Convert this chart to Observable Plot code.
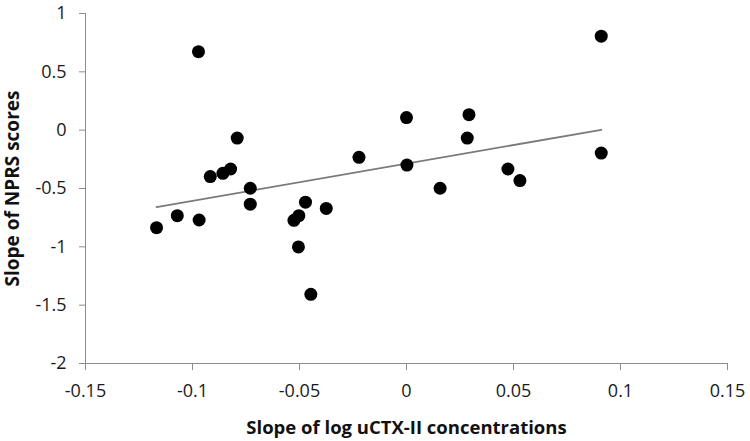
<!DOCTYPE html>
<html><head><meta charset="utf-8">
<script src="https://cdn.jsdelivr.net/npm/d3@7"></script>
<script src="https://cdn.jsdelivr.net/npm/@observablehq/plot@0.6"></script>
<style>body{margin:0;background:#fff}</style>
</head><body><div id="chart"></div>
<script>
// Slope of log uCTX-II concentrations (x) and slope of NPRS scores (y)
const ctxSlope = [-0.0972, -0.1168, -0.1071, -0.0969, -0.0917, -0.0858, -0.0822, -0.0791, -0.0730, -0.0730,
  0.0000, 0.0002, -0.0222, 0.0157, 0.0292, 0.0284, -0.0472, -0.0375, -0.0503, -0.0526, -0.0505, -0.0447,
  0.0910, 0.0910, 0.0474, 0.0530];
const nprsSlope = [0.673, -0.836, -0.733, -0.770, -0.398, -0.370, -0.333, -0.068, -0.498, -0.634,
  0.108, -0.299, -0.233, -0.498, 0.133, -0.068, -0.617, -0.671, -0.733, -0.773, -1.001, -1.407,
  0.806, -0.196, -0.333, -0.432];
const xTicks = [-0.15, -0.1, -0.05, 0, 0.05, 0.1, 0.15];
const yTicks = [-2, -1.5, -1, -0.5, 0, 0.5, 1];
const xLabel = "Slope of log uCTX-II concentrations";
const yLabel = "Slope of NPRS scores";

const data = ctxSlope.map((x, i) => ({x, y: nprsSlope[i]}));
const fmt = d => String(+(+d).toFixed(2));
const axisGray = "#8c8c8c";

const chart = Plot.plot({
  width: 750, height: 441,
  marginLeft: 85, marginRight: 23, marginTop: 13, marginBottom: 78,
  style: {fontFamily: "'Open Sans', sans-serif", background: "#fff", overflow: "visible"},
  x: {domain: [-0.15, 0.15]},
  y: {domain: [-2, 1]},
  marks: [
    Plot.ruleX([-0.15], {stroke: axisGray}),
    Plot.ruleY([-2], {stroke: axisGray}),
    Plot.axisX(xTicks, {tickSize: 7, tickPadding: 14, tickFormat: fmt, fontSize: 18, stroke: axisGray, fill: "#1a1a1a", label: null}),
    Plot.axisY(yTicks, {tickSize: 6, tickPadding: 13, tickFormat: fmt, fontSize: 18, stroke: axisGray, fill: "#1a1a1a", label: null}),
    Plot.linearRegressionY(data, {x: "x", y: "y", ci: 0, stroke: "#7a7a7a", strokeWidth: 1.8}),
    Plot.dot(data, {x: "x", y: "y", r: 6.5, fill: "#000", stroke: "none"}),
    Plot.text([xLabel], {frameAnchor: "bottom", lineAnchor: "middle", textAnchor: "middle", dy: 65, text: d => d, fontSize: 18.5, fontWeight: "bold", fill: "#111"}),
    Plot.text([yLabel], {frameAnchor: "left", lineAnchor: "middle", textAnchor: "middle", dx: -73, rotate: -90, text: d => d, fontSize: 19, fontWeight: "bold", fill: "#111"})
  ]
});
document.getElementById("chart").appendChild(chart);
</script>
</body></html>
